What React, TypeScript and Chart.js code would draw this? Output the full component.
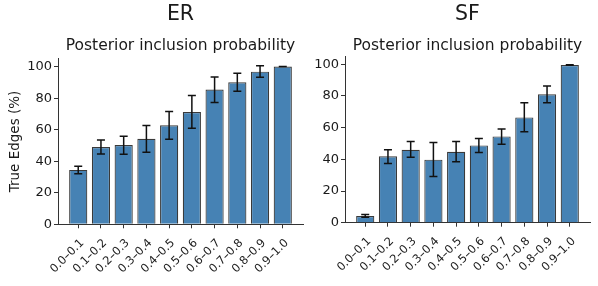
import React, { useEffect, useRef } from 'react';
import { Chart, registerables } from 'chart.js';

Chart.register(...registerables);

const categories = ['0.0–0.1', '0.1–0.2', '0.2–0.3', '0.3–0.4', '0.4–0.5', '0.5–0.6', '0.6–0.7', '0.7–0.8', '0.8–0.9', '0.9–1.0'];

const erValues = [34.5, 49.0, 50.3, 54.2, 62.8, 71.2, 85.4, 90.1, 96.8, 100];
const erLow = [32.1, 44.6, 44.4, 45.7, 53.9, 60.9, 77.2, 84.4, 93.2, 100];
const erHigh = [36.8, 53.5, 55.8, 62.6, 71.5, 81.6, 93.4, 95.8, 100.6, 100];

const sfValues = [4.2, 41.9, 46.1, 39.8, 44.8, 48.8, 54.5, 66.5, 81.1, 99.6];
const sfLow = [3.4, 37.3, 41.3, 29.1, 38.5, 44.4, 49.5, 57.5, 75.8, 99.4];
const sfHigh = [5.1, 46.1, 51.2, 50.7, 51.2, 53.1, 59.2, 75.8, 86.3, 99.8];

const yTicks = [0, 20, 40, 60, 80, 100];

const FONT = 'DejaVu Sans';
const TEXT = '#1a1a1a';
const SPINE = '#333333';
const BAR = '#4682B4';
const EDGE = '#3a3a3a';

type PanelCfg = {
  title: string;
  values: number[];
  low: number[];
  high: number[];
  yWidth: number;
  padRight: number;
  xHeight: number;
  subBottom: number;
  yLabel?: string;
};

function makeChart(canvas: HTMLCanvasElement, cfg: PanelCfg) {
  const errorBars = {
    id: 'errorBars',
    afterDatasetsDraw(chart: any) {
      const { ctx, scales } = chart;
      const xs = scales.x;
      const ys = scales.y;
      ctx.save();
      ctx.strokeStyle = '#111111';
      ctx.lineWidth = 1.5;
      cfg.values.forEach((_, i) => {
        const px = xs.getPixelForValue(i);
        const yl = ys.getPixelForValue(cfg.low[i]);
        const yh = ys.getPixelForValue(cfg.high[i]);
        ctx.beginPath();
        ctx.moveTo(px, yl);
        ctx.lineTo(px, yh);
        ctx.moveTo(px - 4, yl);
        ctx.lineTo(px + 4, yl);
        ctx.moveTo(px - 4, yh);
        ctx.lineTo(px + 4, yh);
        ctx.stroke();
      });
      ctx.restore();
    },
  };

  return new Chart(canvas, {
    type: 'bar',
    data: {
      datasets: [
        {
          data: cfg.values.map((v, i) => ({ x: i, y: v })),
          backgroundColor: BAR,
          borderColor: EDGE,
          borderWidth: 1.2,
          barPercentage: 0.8,
          categoryPercentage: 1.0,
        },
      ],
    },
    plugins: [errorBars],
    options: {
      responsive: false,
      animation: false,
      layout: { padding: { left: 0, right: cfg.padRight, top: 0, bottom: 0 } },
      plugins: {
        legend: { display: false },
        tooltip: { enabled: false },
        title: {
          display: true,
          text: cfg.title,
          fullSize: false,
          color: TEXT,
          font: { family: FONT, size: 20.5, weight: 'normal', lineHeight: 1.2 },
          padding: { top: 2, bottom: 0 },
        },
        subtitle: {
          display: true,
          text: 'Posterior inclusion probability',
          fullSize: false,
          color: TEXT,
          font: { family: FONT, size: 15.5, weight: 'normal', lineHeight: 1.2 },
          padding: { top: 10, bottom: cfg.subBottom },
        },
      },
      scales: {
        x: {
          type: 'linear',
          min: -0.89,
          max: 9.89,
          offset: false,
          afterBuildTicks: (scale: any) => {
            scale.ticks = categories.map((_, i) => ({ value: i }));
          },
          afterFit: (scale: any) => {
            scale.height = cfg.xHeight;
          },
          grid: {
            display: true,
            drawOnChartArea: false,
            drawTicks: true,
            tickLength: 4,
            color: SPINE,
            offset: false,
          },
          border: { display: true, color: SPINE, width: 1 },
          ticks: {
            autoSkip: false,
            maxRotation: 45,
            minRotation: 45,
            padding: 8,
            labelOffset: 4,
            color: TEXT,
            font: { family: FONT, size: 11.5 },
            callback: (v: any) => categories[Math.round(Number(v))] ?? '',
          },
        },
        y: {
          type: 'linear',
          min: 0,
          max: 105,
          afterBuildTicks: (scale: any) => {
            scale.ticks = yTicks.map((v) => ({ value: v }));
          },
          afterFit: (scale: any) => {
            scale.width = cfg.yWidth;
          },
          grid: {
            display: true,
            drawOnChartArea: false,
            drawTicks: true,
            tickLength: 4,
            color: SPINE,
          },
          border: { display: true, color: SPINE, width: 1 },
          ticks: {
            padding: 2,
            color: TEXT,
            font: { family: FONT, size: 13 },
          },
          title: {
            display: !!cfg.yLabel,
            text: cfg.yLabel || '',
            color: TEXT,
            font: { family: FONT, size: 13.5, lineHeight: 1.2 },
            padding: { top: 7, bottom: 0 },
          },
        },
      },
    } as any,
  });
}

export default function App() {
  const leftRef = useRef<HTMLCanvasElement>(null);
  const rightRef = useRef<HTMLCanvasElement>(null);

  useEffect(() => {
    const charts: Chart[] = [];
    if (leftRef.current) {
      charts.push(
        makeChart(leftRef.current, {
          title: 'ER',
          values: erValues,
          low: erLow,
          high: erHigh,
          yWidth: 58,
          padRight: 7,
          xHeight: 61.7,
          subBottom: 3.5,
          yLabel: 'True Edges (%)',
        })
      );
    }
    if (rightRef.current) {
      charts.push(
        makeChart(rightRef.current, {
          title: 'SF',
          values: sfValues,
          low: sfLow,
          high: sfHigh,
          yWidth: 50,
          padRight: 8,
          xHeight: 63.3,
          subBottom: 1.2,
        })
      );
    }
    return () => charts.forEach((c) => c.destroy());
  }, []);

  return (
    <div style={{ position: 'fixed', left: 0, top: 0, width: 598, height: 286, background: '#fff', overflow: 'hidden' }}>
      <canvas ref={leftRef} width={310} height={286} style={{ position: 'absolute', left: 0, top: 0, width: 310, height: 286 }} />
      <canvas ref={rightRef} width={303} height={286} style={{ position: 'absolute', left: 295, top: 0, width: 303, height: 286 }} />
    </div>
  );
}
